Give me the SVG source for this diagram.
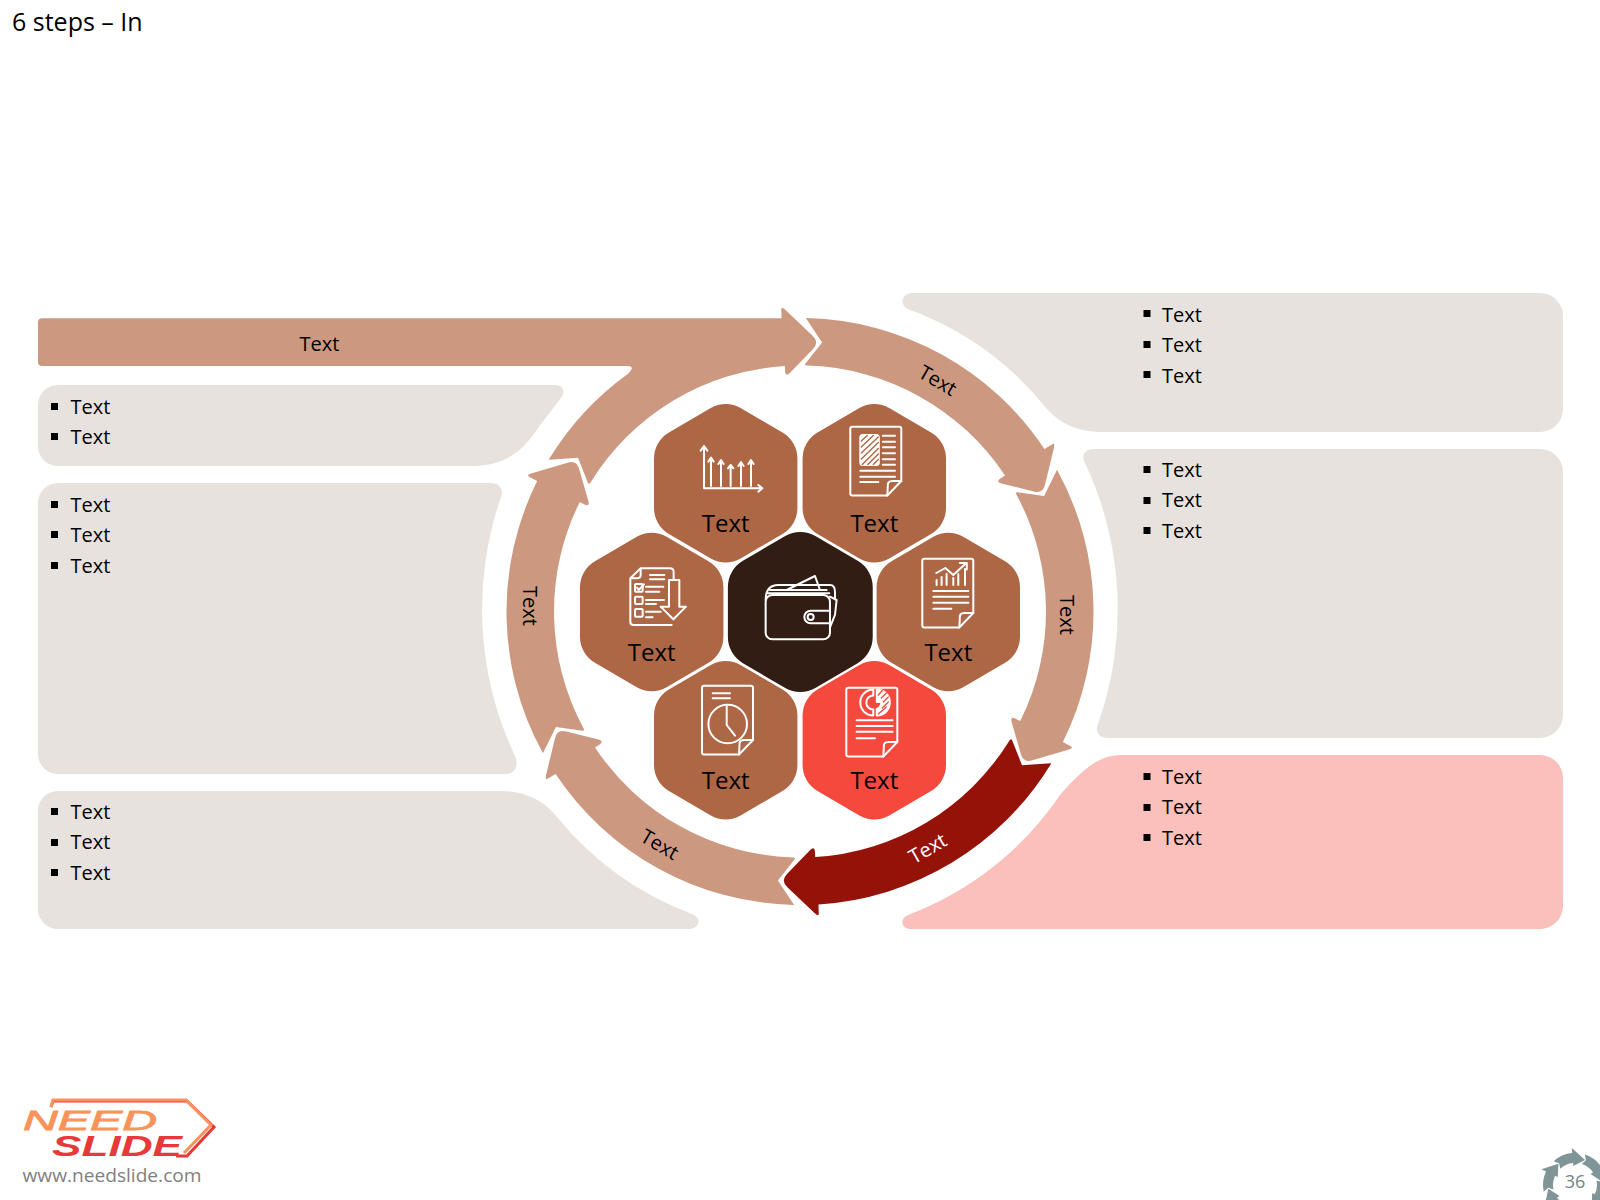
<svg xmlns="http://www.w3.org/2000/svg" xmlns:xlink="http://www.w3.org/1999/xlink" width="1600" height="1200" viewBox="0 0 1600 1200">
<style>
text{font-family:"Open Sans","Noto Sans","Liberation Sans",sans-serif;fill:#000}
.t{font-size:20px}
.h{font-size:24px;text-anchor:middle}
.r{font-size:20px;text-anchor:middle;dominant-baseline:central}
.box{fill:#E7E2DE}
.pink{fill:#FBC0BB}
.ring{fill:#CC9980}
.brown{fill:#AE6745}
.ic{fill:none;stroke:#fff;stroke-width:2;stroke-linecap:round;stroke-linejoin:round}
.b{fill:#000}
</style>
<defs>
<path id="hex" d="M-14.9,-75.3 A30,30 0 0 1 14.9,-75.3 L56.8,-50.7 A30,30 0 0 1 71.7,-24.7 L71.7,24.7 A30,30 0 0 1 56.8,50.7 L14.9,75.3 A30,30 0 0 1 -14.9,75.3 L-56.8,50.7 A30,30 0 0 1 -71.7,24.7 L-71.7,-24.7 A30,30 0 0 1 -56.8,-50.7 Z"/>
<path id="arrow" d="M-250.7,-151.8 Q-251.6,-151.2 -250.6,-152.9 A293.5,293.5 0 0 1 -18.5,-292.9 L-18.7,-300.8 Q-19.3,-305.8 -15,-302 L12.6,-275.7 Q19.8,-269.3 12.8,-262.3 L-10.2,-238.5 Q-14.3,-234.4 -14.9,-239.5 L-15.2,-245.5 A246,246 0 0 0 -209.5,-128.9 Q-210.9,-126.7 -212,-128.5 L-222,-153.7 Z"/>
<path id="mini" d="M-21.4,-23.8 A32,32 0 0 1 -2.8,-31.9 L-3.2,-36.9 L10.1,-25 L-1.7,-18.9 L-1.9,-21.9 A22,22 0 0 0 -14.7,-16.3 L-15.9,-21.8 Z"/>
<g id="doc"><path d="M3,0.8 H50 Q52,0.8 52,3 V55 L38,69.5 H3 Q1,69.5 1,67.5 V3 Q1,0.8 3,0.8 Z"/><path d="M52,55 H43 Q38,55 38.5,60 L38,69.5"/></g>
</defs>

<text x="12" y="31" style="font-size:25px">6 steps – In</text>

<g id="panels">
<g id="panel-top-right"><path class="box" d="M912,293 H1540 A23,23 0 0 1 1563,316 V409 A23,23 0 0 1 1540,432 H1100 C1075,431 1060,423 1047,409 A320,320 0 0 0 908,309 C898,304 903,293 912,293 Z"/>
<rect class="b" x="1143.500" y="310" width="7" height="7"/><text class="t" x="1162" y="322">Text</text>
<rect class="b" x="1143.500" y="341" width="7" height="7"/><text class="t" x="1162" y="352">Text</text>
<rect class="b" x="1143.500" y="371" width="7" height="7"/><text class="t" x="1162" y="383">Text</text></g>
<g id="panel-mid-right"><path class="box" d="M1094,449 H1540 A23,23 0 0 1 1563,472 V715 A23,23 0 0 1 1540,738 H1108 C1098,738 1095,731 1098,724 A343,343 0 0 0 1085,463 C1081,455 1085,449 1094,449 Z"/>
<rect class="b" x="1143.500" y="466" width="7" height="7"/><text class="t" x="1162" y="477">Text</text>
<rect class="b" x="1143.500" y="497" width="7" height="7"/><text class="t" x="1162" y="507">Text</text>
<rect class="b" x="1143.500" y="527" width="7" height="7"/><text class="t" x="1162" y="538">Text</text></g>
<g id="panel-low-right"><path class="pink" d="M1122,755 H1540 A23,23 0 0 1 1563,778 V906 A23,23 0 0 1 1540,929 H912 C901,929 899,919 908,915 A320,320 0 0 0 1060,795 C1082,770 1098,755 1122,755 Z"/>
<rect class="b" x="1143.500" y="773" width="7" height="7"/><text class="t" x="1162" y="784">Text</text>
<rect class="b" x="1143.500" y="804" width="7" height="7"/><text class="t" x="1162" y="814">Text</text>
<rect class="b" x="1143.500" y="834" width="7" height="7"/><text class="t" x="1162" y="845">Text</text></g>
<g id="panel-a"><path class="box" d="M58,385 H555 C563,385 566,392 561,398 L538,428 C522,452 505,466 470,466 H58 A20,20 0 0 1 38,446 V405 A20,20 0 0 1 58,385 Z"/>
<rect class="b" x="51" y="403" width="7" height="7"/><text class="t" x="70.500" y="414">Text</text>
<rect class="b" x="51" y="433" width="7" height="7"/><text class="t" x="70.500" y="444">Text</text></g>
<g id="panel-b"><path class="box" d="M58,483 H491 C500,483 504,490 501,497 A343,343 0 0 0 515,756 C519,765 515,774 506,774 H58 A20,20 0 0 1 38,754 V503 A20,20 0 0 1 58,483 Z"/>
<rect class="b" x="51" y="501" width="7" height="7"/><text class="t" x="70.500" y="512">Text</text>
<rect class="b" x="51" y="531" width="7" height="7"/><text class="t" x="70.500" y="542">Text</text>
<rect class="b" x="51" y="562" width="7" height="7"/><text class="t" x="70.500" y="573">Text</text></g>
<g id="panel-c"><path class="box" d="M58,791 H500 C525,791 543,800 557,817 A320,320 0 0 0 692,914 C702,918 700,929 688,929 H58 A20,20 0 0 1 38,909 V811 A20,20 0 0 1 58,791 Z"/>
<rect class="b" x="51" y="808" width="7" height="7"/><text class="t" x="70.500" y="819">Text</text>
<rect class="b" x="51" y="839" width="7" height="7"/><text class="t" x="70.500" y="849">Text</text>
<rect class="b" x="51" y="869" width="7" height="7"/><text class="t" x="70.500" y="880">Text</text></g>
</g>

<g id="connectors" transform="translate(800,611.5)">
<use href="#arrow" class="ring" transform="rotate(60)"/>
<use href="#arrow" class="ring" transform="rotate(120)"/>
<use href="#arrow" class="ring" transform="rotate(240)"/>
<use href="#arrow" class="ring" transform="rotate(300)"/>
<use href="#arrow" fill="#951208" transform="rotate(180)"/>
<path id="bar-arrow" class="ring" d="M-250.7,-151.8 Q-251.6,-151.2 -250.6,-152.9 A293.5,293.5 0 0 1 -172,-237.8 Q-164,-245.5 -173,-245.5 L-758,-245.5 Q-762,-245.5 -762,-249.5 L-762,-289.2 Q-762,-293.2 -758,-293.2 L-18.5,-293.2 L-18.7,-300.8 Q-19.3,-305.8 -15,-302 L12.6,-275.7 Q19.8,-269.3 12.8,-262.3 L-10.2,-238.5 Q-14.3,-234.4 -14.9,-239.5 L-15.2,-245.5 A246,246 0 0 0 -209.5,-128.9 Q-210.9,-126.7 -212,-128.5 L-222,-153.7 Z"/>
</g>
<g id="ring-labels">
<text class="r" x="319.5" y="343">Text</text>
<text class="r" x="938" y="380" transform="rotate(30 938 380)">Text</text>
<text class="r" x="1067" y="615" transform="rotate(90 1067 615)">Text</text>
<text class="r" x="927.5" y="848" transform="rotate(-30 927.5 848)" style="fill:#fff">Text</text>
<text class="r" x="660" y="844" transform="rotate(30 660 844)">Text</text>
<text class="r" x="530" y="606" transform="rotate(90 530 606)">Text</text>
</g>

<g id="node-center">
<use href="#hex" fill="#311D14" transform="translate(800.3,612) scale(1.01)"/>
<g class="ic" transform="translate(570,540) scale(.3333)" style="stroke-width:6">
<rect x="587" y="165" width="193" height="133" rx="20"/>
<path d="M587,180 Q587,135 625,135 H780 Q795,135 795,155 V178 M600,150 H770 M595,160 H778 M650,150 L735,108 L750,150"/>
<path d="M780,212 H722 A18,18 0 0 0 722,250 H780 M800,180 L795,225 L780,262 M780,170 L800,180"/>
<circle cx="722" cy="231" r="9"/>
</g>
</g>

<g id="node-chart">
<use href="#hex" class="brown" transform="translate(725.7,483.3)"/>
<text class="h" x="725.7" y="531.7">Text</text>
<g class="ic" transform="translate(640,400) scale(.3333)" style="stroke-width:6">
<path d="M192,142 V265 H365 M182,152 L192,138 L202,152 M355,255 L367,265 L355,275"/>
<path d="M213,258 V175 M205,185 L213,173 L221,185 M243,258 V182 M235,192 L243,180 L251,192 M272,258 V196 M264,205 L272,195 L280,205 M303,258 V188 M295,198 L303,186 L311,198 M333,258 V182 M325,192 L333,180 L341,192"/>
</g>
</g>

<g id="node-report">
<use href="#hex" class="brown" transform="translate(874.3,483.3)"/>
<text class="h" x="874.3" y="531.7">Text</text>
<g class="ic" transform="translate(849.3,426)">
<use href="#doc"/>
<rect x="11" y="9" width="18.500" height="30" rx="2.500" fill="#fff"/>
<path style="stroke:#AE6745;stroke-width:1.4" d="M12,15 L18,9.5 M12,21 L24,9.5 M12,27 L29,11 M12,33 L29,16.500 M13,38.500 L29,22.500 M18.500,38.500 L29,28 M24,38.500 L29,33.500"/>
<path d="M33.500,9.7 H45.7 M33.500,15.700 H45.7 M33.500,21.3 H45.7 M33.500,27.3 H45.7 M33.500,33.3 H45.7 M33.500,38.7 H45.7 M11,44.7 H45.7 M11,50.7 H45.7 M11,56 H29"/>
</g>
</g>

<g id="node-growth">
<use href="#hex" class="brown" transform="translate(948.3,612)"/>
<text class="h" x="948.3" y="660.7">Text</text>
<g class="ic" transform="translate(921.3,558)">
<use href="#doc"/>
<path d="M15.3,27 V22 M20.3,27 V19 M25.3,27 V16 M32,27 V20 M37,27 V16 M43.7,27 V11 M15,15 L24,10 L32,17 L45,5 M38.500,5 H45.500 V11.500"/>
<path d="M12,33 H47 M12,38.7 H47 M12,44.7 H47 M12,50.7 H30"/>
</g>
</g>

<g id="node-pie">
<use href="#hex" fill="#F4493C" transform="translate(874.3,740.3)"/>
<text class="h" x="874.3" y="789.3">Text</text>
<g class="ic" transform="translate(845.3,687)">
<use href="#doc"/>
<path d="M28,2.500 A13,13 0 0 0 28,28.500 M28,8.500 A7,7 0 0 0 28,22.500 M28,2.500 V8.500 M28,22.500 V28.500"/>
<path fill="#fff" d="M31.500,2.500 A13,13 0 0 1 31.500,28.500 V22 A7,7 0 0 0 36,15 H31.500 V2.500 Z"/>
<path style="stroke:#F4493C;stroke-width:1.3" d="M33,8 L37,3.500 M36,11 L41,6 M38,15 L43,10 M37,21 L43,15 M33,27 L41,20"/>
<path d="M11.3,33.3 H47.3 M11.3,39 H47.3 M11.3,44.7 H47.3 M11.3,51.3 H29.7"/>
</g>
</g>

<g id="node-clock">
<use href="#hex" class="brown" transform="translate(725.7,740.3)"/>
<text class="h" x="725.7" y="789.3">Text</text>
<g class="ic" transform="translate(701,685)">
<use href="#doc"/>
<path d="M11.7,8.3 H29 M11.7,13.3 H29"/>
<circle cx="26.7" cy="39" r="19.3"/>
<path d="M25.7,21.7 V40 L34,50.7"/>
</g>
</g>

<g id="node-checklist">
<use href="#hex" class="brown" transform="translate(651.7,612)"/>
<text class="h" x="651.7" y="660.7">Text</text>
<g class="ic" transform="translate(570,540) scale(.3333)" style="stroke-width:6">
<path d="M212,85 H300 Q311,85 311,96 V118 M212,85 L181,115 V245 Q181,255 191,255 H305 M212,85 V105 Q212,115 200,115 H181"/>
<path d="M297,120 H328 V200 H348 L310,238 L272,200 H297 Z"/>
<rect x="195" y="132" width="23" height="23" rx="3"/><rect x="195" y="170" width="23" height="22" rx="3"/><rect x="195" y="207" width="23" height="23" rx="3"/>
<path d="M201,143 L206,150 L222,133 M240,105 H283 M240,118 H283 M228,140 H280 M228,155 H268 M228,180 H282 M228,192 H258 M228,215 H272 M228,232 H248"/>
</g>
</g>

<g id="logo">
<path d="M51,1107 L53,1101 H187 L214,1127 L187,1156 H176" fill="none" stroke="#E8393A" stroke-width="3"/>
<path d="M51,1107 L53,1100 H186 L211,1125 L184,1153" fill="none" stroke="#F9935A" stroke-width="3"/>
<text x="23" y="1130" textLength="134" lengthAdjust="spacingAndGlyphs" style="font-family:'Liberation Sans',sans-serif;font-style:italic;font-size:28px;fill:#F9935A;stroke:#F9935A;stroke-width:.8">NEED</text>
<text x="52" y="1156" textLength="130" lengthAdjust="spacingAndGlyphs" style="font-family:'Liberation Sans',sans-serif;font-style:italic;font-weight:bold;font-size:29px;fill:#E8393A">SLIDE</text>
<text x="22.500" y="1182" textLength="179" lengthAdjust="spacingAndGlyphs" style="font-size:19px;fill:#7F7F7F">www.needslide.com</text>
</g>

<g id="page-number">
<g transform="translate(1575,1185)" fill="#7F9597">
<use href="#mini"/><use href="#mini" transform="rotate(60)"/><use href="#mini" transform="rotate(120)"/><use href="#mini" transform="rotate(180)"/><use href="#mini" transform="rotate(240)"/><use href="#mini" transform="rotate(300)"/>
</g>
<text x="1575" y="1188" style="font-size:18px;text-anchor:middle;fill:#6F8587">36</text>
</g>
</svg>
